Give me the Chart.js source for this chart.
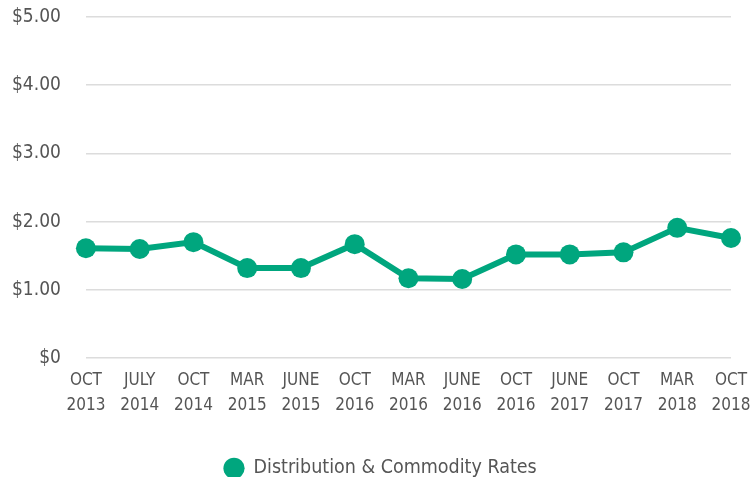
<!DOCTYPE html>
<html>
<head>
<meta charset="utf-8">
<script src="https://cdn.jsdelivr.net/npm/chart.js@4"></script>
<style>
  html, body { margin: 0; padding: 0; background: #fff; }
  #wrap { width: 753px; height: 477px; position: relative; }
</style>
</head>
<body>
<div id="wrap"><canvas id="grafico"></canvas></div>
<script>
// Datos del gráfico
const categorias = [
  ['OCT', '2013'], ['JULY', '2014'], ['OCT', '2014'], ['MAR', '2015'], ['JUNE', '2015'],
  ['OCT', '2016'], ['MAR', '2016'], ['JUNE', '2016'], ['OCT', '2016'], ['JUNE', '2017'],
  ['OCT', '2017'], ['MAR', '2018'], ['OCT', '2018']
];
const tarifas = [1.61, 1.60, 1.70, 1.32, 1.32, 1.67, 1.17, 1.16, 1.52, 1.52, 1.55, 1.91, 1.76];
const etiquetasY = ['$0', '$1.00', '$2.00', '$3.00', '$4.00', '$5.00'];
const nombreSerie = 'Distribution & Commodity Rates';

const verde = '#00a67e';
const gris = '#555555';
const transparente = 'rgba(0,0,0,0)';
const fuente = "'DejaVu Sans Condensed', 'DejaVu Sans', sans-serif";

// Desplaza la leyenda un poco a la derecha (en el original no está centrada sobre el área)
const moverLeyenda = {
  id: 'moverLeyenda',
  afterLayout(chart) {
    chart.legend.left += 9;
    chart.legend.right += 9;
  }
};

new Chart(document.getElementById('grafico'), {
  type: 'line',
  data: {
    labels: categorias,
    datasets: [{
      label: nombreSerie,
      data: tarifas,
      borderColor: verde,
      backgroundColor: verde,
      pointBackgroundColor: verde,
      pointBorderWidth: 0,
      pointRadius: 10,
      borderWidth: 6,
      tension: 0,
      clip: false
    }]
  },
  options: {
    responsive: true,
    maintainAspectRatio: false,
    animation: false,
    layout: {
      autoPadding: false,
      padding: { top: 17, right: 22, left: 12, bottom: -11 }
    },
    plugins: {
      legend: {
        position: 'bottom',
        title: { display: true, text: '', font: { size: 12 }, padding: { top: 0, bottom: 26 } },
        labels: {
          usePointStyle: true,
          pointStyle: 'circle',
          boxHeight: 15,
          color: gris,
          padding: 0,
          font: { family: fuente, size: 19.5 }
        }
      },
      tooltip: { enabled: false }
    },
    scales: {
      x: {
        offset: false,
        // solo se usa la marca (transparente) para separar las etiquetas
        grid: { drawOnChartArea: false, drawTicks: true, tickLength: 10, tickColor: transparente },
        border: { display: false },
        ticks: {
          color: gris,
          padding: 0,
          maxRotation: 0,
          autoSkip: false,
          font: { family: fuente, size: 17, lineHeight: 1.47 }
        }
      },
      y: {
        min: 0,
        max: 5,
        border: { display: false },
        grid: { color: '#dcdcdc', lineWidth: 1.5, drawTicks: true, tickLength: 25, tickColor: transparente },
        ticks: {
          stepSize: 1,
          color: gris,
          padding: 0,
          font: { family: fuente, size: 19 },
          callback: (v, i) => etiquetasY[i]
        }
      }
    }
  },
  plugins: [moverLeyenda]
});
</script>
</body>
</html>
